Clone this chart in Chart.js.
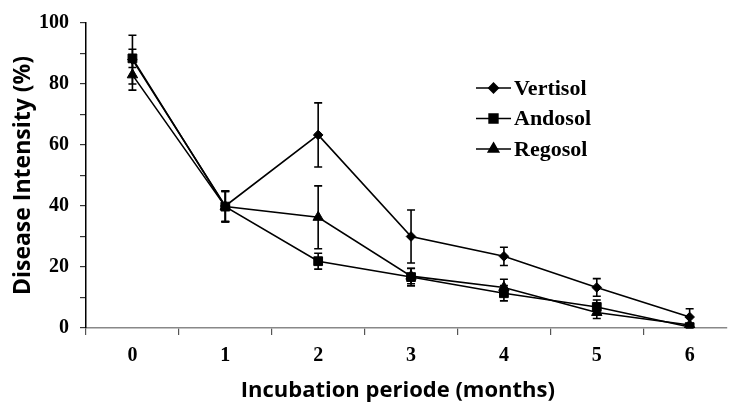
<!DOCTYPE html>
<html>
<head>
<meta charset="utf-8">
<script src="https://cdn.jsdelivr.net/npm/chart.js@4/dist/chart.umd.min.js"></script>
<style>
html,body{margin:0;padding:0;background:#fff;}
#wrap{width:734px;height:407px;position:relative;}
</style>
</head>
<body>
<div id="wrap"><canvas id="c" width="734" height="407"></canvas></div>
<script>
const months = [0, 1, 2, 3, 4, 5, 6];
const seriesNames = ['Vertisol', 'Andosol', 'Regosol'];
const vertisol = [88, 40, 63.3, 30, 23.5, 13.3, 3.6];
const vertisolErr = [8, 5, 10.5, 8.7, 3, 2.9, 2.7];
const andosol = [88.4, 39.8, 21.9, 16.7, 11.4, 6.9, 0.3];
const andosolErr = [3, 5, 2.6, 2.9, 2.5, 2.3, 0.5];
const regosol = [83, 39.8, 36.3, 17, 13.3, 5.1, 1];
const regosolErr = [5, 5, 10.3, 2.5, 2.7, 2, 0.5];
const pointStyles = ['rectRot', 'rect', 'triangle'];
const pointRadii = [4.8, 6.2, 6];
const yTickValues = [0, 20, 40, 60, 80, 100];

const serif = '"Liberation Serif", "Times New Roman", serif';
const sans = '"Open Sans", "Noto Sans", sans-serif';

const errorBars = {
  id: 'errorBars',
  afterDatasetsDraw(chart) {
    const ctx = chart.ctx;
    const xs = chart.scales.x, ys = chart.scales.y;
    ctx.save();
    ctx.strokeStyle = '#000';
    ctx.lineWidth = 1.6;
    chart.data.datasets.forEach(ds => {
      ds.data.forEach((p, i) => {
        const e = ds.errors[i];
        const x = xs.getPixelForValue(p.x);
        const yt = ys.getPixelForValue(p.y + e);
        const yb = ys.getPixelForValue(Math.max(p.y - e, 0));
        ctx.beginPath();
        ctx.moveTo(x, yt); ctx.lineTo(x, yb);
        ctx.moveTo(x - 4, yt); ctx.lineTo(x + 4, yt);
        ctx.moveTo(x - 4, yb); ctx.lineTo(x + 4, yb);
        ctx.stroke();
      });
    });
    ctx.restore();
  }
};

const customLegend = {
  id: 'customLegend',
  afterDraw(chart) {
    const ctx = chart.ctx;
    ctx.save();
    const x0 = 476, x1 = 511, yStart = 88, gap = 30.5;
    chart.data.datasets.forEach((ds, i) => {
      const y = yStart + i * gap;
      ctx.strokeStyle = '#000';
      ctx.lineWidth = 1.6;
      ctx.beginPath(); ctx.moveTo(x0, y); ctx.lineTo(x1, y); ctx.stroke();
      Chart.helpers.drawPoint(ctx, {pointStyle: ds.pointStyle, radius: ds.pointRadius, borderWidth: 1}, (x0 + x1) / 2, y);
      ctx.fillStyle = '#000';
      ctx.font = 'bold 22px ' + serif;
      ctx.textBaseline = 'middle';
      ctx.textAlign = 'left';
      ctx.fillText(ds.label, x1 + 3, y + 1);
    });
    ctx.restore();
  }
};

function mk(name, vals, errs, idx) {
  return {
    label: name,
    data: months.map((m, i) => ({x: m, y: vals[i]})),
    errors: errs,
    borderColor: '#000',
    backgroundColor: '#000',
    borderWidth: 1.6,
    pointStyle: pointStyles[idx],
    pointRadius: pointRadii[idx],
    pointHoverRadius: pointRadii[idx],
    pointBackgroundColor: '#000',
    pointBorderColor: '#000',
    pointBorderWidth: 1,
    tension: 0,
    fill: false
  };
}

new Chart(document.getElementById('c'), {
  type: 'line',
  data: {
    datasets: [
      mk(seriesNames[0], vertisol, vertisolErr, 0),
      mk(seriesNames[1], andosol, andosolErr, 1),
      mk(seriesNames[2], regosol, regosolErr, 2)
    ]
  },
  options: {
    responsive: false,
    animation: false,
    layout: {padding: {top: 17, right: 0, left: 0, bottom: 0}},
    plugins: {legend: {display: false}, tooltip: {enabled: false}},
    scales: {
      x: {
        type: 'linear',
        min: -0.5,
        max: 6.4,
        afterBuildTicks(scale) {
          const t = [];
          for (let v = -0.5; v <= 6.01; v += 0.5) t.push({value: v});
          scale.ticks = t;
        },
        afterFit(scale) { scale.height = 79; },
        border: {color: '#888', width: 1.5},
        grid: {
          drawOnChartArea: false,
          drawTicks: true,
          tickLength: 7,
          tickColor: c => (Math.abs(c.tick.value % 1) === 0.5 ? '#555' : 'rgba(0,0,0,0)'),
          lineWidth: 1.2
        },
        ticks: {
          autoSkip: false,
          maxRotation: 0,
          padding: 9,
          color: '#000',
          font: {family: serif, size: 20, weight: 'bold'},
          callback: v => (Number.isInteger(v) && months.includes(v) ? String(v) : '')
        },
        title: {
          display: true,
          text: 'Incubation periode (months)   ',
          color: '#000',
          font: {family: sans, size: 22, weight: 'bold'},
          padding: {top: 0, bottom: 3}
        }
      },
      y: {
        min: 0,
        max: 100,
        afterBuildTicks(scale) {
          const t = [];
          for (let v = 0; v <= 100; v += 10) t.push({value: v});
          scale.ticks = t;
        },
        afterFit(scale) { scale.width = 86; },
        border: {color: '#000', width: 1.5},
        grid: {drawOnChartArea: false, drawTicks: true, tickLength: 6, tickColor: '#333', lineWidth: 1.2},
        ticks: {
          padding: 11,
          color: '#000',
          font: {family: serif, size: 20, weight: 'bold'},
          callback: v => (yTickValues.includes(v) ? String(v) : '')
        },
        title: {
          display: true,
          text: 'Disease Intensity (%)',
          color: '#000',
          font: {family: sans, size: 23, weight: 'bold'},
          padding: {top: 10, bottom: 0}
        }
      }
    }
  },
  plugins: [errorBars, customLegend]
});
</script>
</body>
</html>
